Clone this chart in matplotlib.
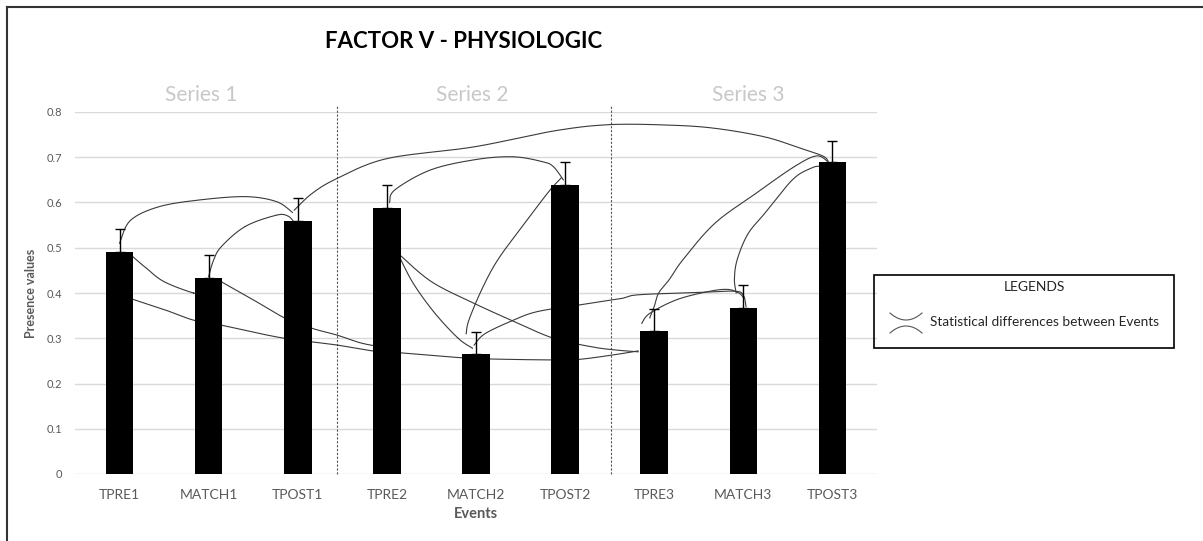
import numpy as np
import matplotlib
matplotlib.use("Agg")
import matplotlib.pyplot as plt
from matplotlib.lines import Line2D
from matplotlib.patches import Rectangle

plt.rcParams['font.family'] = ['Lato', 'DejaVu Sans']

events = ['TPRE1', 'MATCH1', 'TPOST1', 'TPRE2', 'MATCH2', 'TPOST2', 'TPRE3', 'MATCH3', 'TPOST3']
presence = [0.491, 0.434, 0.559, 0.587, 0.265, 0.638, 0.316, 0.366, 0.689]
errors = [0.050, 0.049, 0.050, 0.052, 0.049, 0.051, 0.049, 0.051, 0.048]
series_names = ['Series 1', 'Series 2', 'Series 3']

# significant pairs, each as a hand-drawn path (event index, presence value)
links = [
    ('TPRE1-TPOST1', [(0.0, 0.51), (0.12, 0.56), (0.43, 0.59), (0.87, 0.605), (1.41, 0.613),
                      (1.76, 0.602), (1.94, 0.578)]),
    ('MATCH1-TPOST1', [(1.0, 0.436), (1.05, 0.47), (1.14, 0.502), (1.41, 0.547), (1.76, 0.572),
                       (1.89, 0.57), (1.96, 0.556)]),
    ('TPOST1-TPOST3', [(1.96, 0.583), (2.16, 0.62), (2.44, 0.653), (3.0, 0.697), (3.98, 0.723),
                       (4.87, 0.758), (5.49, 0.772), (6.17, 0.771), (6.68, 0.764), (7.24, 0.745),
                       (7.64, 0.72), (7.89, 0.703), (7.95, 0.692)]),
    ('TPRE2-TPOST2', [(3.03, 0.60), (3.09, 0.628), (3.49, 0.672), (4.0, 0.695), (4.42, 0.701),
                      (4.75, 0.69), (4.87, 0.679), (4.98, 0.65)]),
    ('MATCH2-TPOST2', [(3.89, 0.31), (3.92, 0.34), (4.07, 0.41), (4.25, 0.475), (4.55, 0.555),
                       (4.82, 0.625), (4.96, 0.655)]),
    ('TPRE2-MATCH2', [(3.14, 0.48), (3.3, 0.42), (3.54, 0.355), (3.8, 0.30), (3.96, 0.278)]),
    ('TPRE2-TPRE3', [(3.14, 0.485), (3.5, 0.425), (3.98, 0.377), (4.45, 0.335), (4.87, 0.30),
                     (5.3, 0.281), (5.57, 0.274), (5.82, 0.27)]),
    ('TPRE1-MATCH1', [(0.15, 0.48), (0.3, 0.455), (0.5, 0.425), (0.83, 0.40), (0.95, 0.40)]),
    ('MATCH1-TPRE2', [(1.1, 0.43), (1.14, 0.425), (1.5, 0.385), (1.85, 0.345), (2.16, 0.322),
                      (2.44, 0.307), (2.7, 0.29), (2.9, 0.282)]),
    ('TPRE1-TPRE3', [(0.15, 0.386), (0.52, 0.362), (0.83, 0.34), (1.14, 0.329), (1.76, 0.303),
                     (2.16, 0.292), (2.44, 0.285), (2.84, 0.272), (3.14, 0.268), (3.83, 0.257),
                     (4.2, 0.254), (4.87, 0.252), (5.14, 0.253), (5.5, 0.262), (5.82, 0.272)]),
    ('MATCH2-MATCH3', [(3.98, 0.285), (4.1, 0.31), (4.42, 0.34), (4.69, 0.359), (5.14, 0.373),
                       (5.61, 0.387), (5.82, 0.396), (6.47, 0.401), (6.9, 0.404), (7.0, 0.395),
                       (7.03, 0.37)]),
    ('TPRE3-MATCH3', [(5.86, 0.333), (5.95, 0.355), (6.25, 0.385), (6.6, 0.403), (6.82, 0.408),
                      (6.95, 0.40), (7.0, 0.39)]),
    ('TPRE3-TPOST3', [(5.95, 0.345), (6.0, 0.37), (6.05, 0.40), (6.17, 0.43), (6.32, 0.473),
                      (6.68, 0.554), (7.14, 0.62), (7.57, 0.679), (7.82, 0.703), (7.95, 0.69)]),
    ('MATCH3-TPOST3', [(6.92, 0.40), (6.9, 0.43), (6.93, 0.473), (7.05, 0.53), (7.24, 0.576),
                       (7.55, 0.65), (7.75, 0.675), (7.86, 0.68), (7.92, 0.672)]),
]


def smooth(points, n=25):
    # Catmull-Rom path through the given points
    p = np.array(points, dtype=float)
    p = np.vstack([p[0], p, p[-1]])
    t = np.linspace(0, 1, n)[:, None]
    segs = []
    for i in range(1, len(p) - 2):
        p0, p1, p2, p3 = p[i - 1], p[i], p[i + 1], p[i + 2]
        segs.append(0.5 * (2 * p1 + (-p0 + p2) * t + (2 * p0 - 5 * p1 + 4 * p2 - p3) * t ** 2
                           + (-p0 + 3 * p1 - 3 * p2 + p3) * t ** 3))
    return np.vstack(segs)


W, H = 1203, 541


def fpos(x, y):
    return x / W, 1 - y / H


fig = plt.figure(figsize=(W / 100, H / 100), dpi=100)
ax = fig.add_axes([75 / W, 1 - 474 / H, (877 - 75) / W, (474 - 112) / H])

x = np.arange(len(events))
ax.bar(x, presence, width=0.31, color='black', zorder=3)
ax.errorbar(x, presence, yerr=[np.zeros(len(errors)), errors], fmt='none',
            ecolor='black', elinewidth=1, capsize=3.5, capthick=1, zorder=4)

for name, pts in links:
    c = smooth(pts)
    ax.plot(c[:, 0], c[:, 1], color='#3a3a3a', lw=0.8, zorder=2)

# dashed separators between the series
for xd in (2.44, 5.52):
    ax.plot([xd, xd], [0, 0.813], color='#555555', lw=0.8, ls=(0, (2, 1.5)),
            clip_on=False, zorder=1)

ax.set_xlim(-0.5, 8.5)
ax.set_ylim(0, 0.8)
ax.set_yticks(np.arange(0, 0.81, 0.1))
ax.set_yticklabels(['0', '0.1', '0.2', '0.3', '0.4', '0.5', '0.6', '0.7', '0.8'])
ax.set_xticks(x)
ax.set_xticklabels(events)
ax.grid(axis='y', color='#d9d9d9', lw=1, zorder=0)
ax.set_axisbelow(True)
for s in ax.spines.values():
    s.set_visible(False)
ax.tick_params(axis='both', length=0, colors='#595959')
ax.tick_params(axis='y', labelsize=8, pad=9)
ax.tick_params(axis='x', labelsize=10, pad=11)

fig.text(*fpos(31, 293), 'Presence values', rotation=90, ha='center', va='center',
         fontsize=9, fontweight='bold', color='#595959')
fig.text(*fpos(476, 514), 'Events', ha='center', va='center',
         fontsize=10.5, fontweight='bold', color='#595959')
fig.text(*fpos(464, 41), 'FACTOR V - PHYSIOLOGIC', ha='center', va='center',
         fontsize=16, fontweight='bold', color='black')

label_x = [201, 472, 748]
for name, lx in zip(series_names, label_x):
    fig.text(*fpos(lx, 95), name, ha='center', va='center', fontsize=15, color='#c8c8c8')

# legend box
fig.patches.append(Rectangle(fpos(874, 348), 300 / W, 73 / H, transform=fig.transFigure,
                             fill=False, edgecolor='black', lw=1.2))
fig.text(*fpos(1034, 287), 'LEGENDS', ha='center', va='center', fontsize=10, color='#262626')
fig.text(*fpos(930, 322), 'Statistical differences between Events', ha='left', va='center',
         fontsize=9.8, color='#262626')
sx = np.linspace(890, 922, 30)
top_arc = 313 + 7 * (1 - ((sx - 906) / 16) ** 2)
bot_arc = 333 - 7 * (1 - ((sx - 906) / 16) ** 2)
for arc in (top_arc, bot_arc):
    fig.lines.append(Line2D(sx / W, 1 - arc / H, transform=fig.transFigure,
                            color='#555555', lw=0.8))

# page frame
fig.lines.append(Line2D([7 / W, 1], [1 - 7 / H, 1 - 7 / H], transform=fig.transFigure,
                        color='#333333', lw=1.5))
fig.lines.append(Line2D([7 / W, 7 / W], [0, 1 - 7 / H], transform=fig.transFigure,
                        color='#333333', lw=1.5))

fig.savefig('out.png', dpi=100, facecolor='white')
